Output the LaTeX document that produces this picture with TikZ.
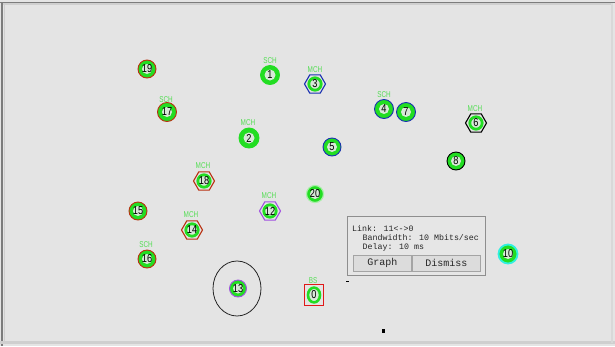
\documentclass[tikz,border=0pt]{standalone}
\usepackage{fontspec}
\setmainfont{Liberation Sans}
\newfontfamily\monofont{Liberation Mono}
\newfontfamily\numfont[FakeStretch=0.8]{Liberation Sans}
\newfontfamily\labfont[FakeStretch=0.75]{Liberation Sans}
\usetikzlibrary{shapes.geometric}
\definecolor{bg}{HTML}{E4E4E4}
\definecolor{grn}{HTML}{22DD22}
\definecolor{lgrn}{HTML}{55DD55}
\definecolor{ctr}{HTML}{D8E8D8}
\definecolor{rdo}{HTML}{B83010}
\definecolor{rsq}{HTML}{E01818}
\definecolor{blu}{HTML}{1830B0}
\definecolor{pur}{HTML}{A050E0}
\definecolor{cyn}{HTML}{30F0E0}
\definecolor{glw}{HTML}{A8EEA8}
\definecolor{frdark}{HTML}{7C7C7C}
\definecolor{frlight}{HTML}{CFCFCF}
\definecolor{boxln}{HTML}{8E8E8E}
\definecolor{boxbg}{HTML}{E6E6E6}
\definecolor{btnbg}{HTML}{DCDCDC}
\definecolor{btnln}{HTML}{A4A4A4}
\begin{document}
\begin{tikzpicture}[x=1pt,y=-1pt,
  num/.style={inner sep=0pt, font=\numfont\fontsize{11.5}{12}\selectfont, text=black},
  cn/.style={num, circle, minimum size=18pt, draw=#1, line width=0.9pt, fill=grn,
    path picture={\fill[ctr] (path picture bounding box.center) circle (5pt);}},
  pn/.style={num, circle, minimum size=19pt, draw=grn, line width=0.9pt, fill=grn,
    path picture={\fill[ctr] (path picture bounding box.center) circle (5.5pt);}},
  hn/.style={num, regular polygon, regular polygon sides=6, minimum size=21pt,
    draw=#1, line width=1.1pt, fill=bg,
    path picture={\filldraw[draw=grn, line width=2.8pt, fill=ctr]
      (path picture bounding box.center) circle (6.2pt);}},
  lab/.style={inner sep=0pt, font=\labfont\fontsize{8.5}{9}\selectfont, text=lgrn},
  mono/.style={inner sep=0pt, font=\monofont\fontsize{8.3}{9}\selectfont, text=black!85},
  btn/.style={inner sep=0pt, draw=btnln, fill=btnbg, line width=0.8pt,
    font=\monofont\fontsize{10}{11}\selectfont, text=black!85, anchor=north west,
    minimum height=16pt}
]
\useasboundingbox (0,0) rectangle (615,346);
% canvas and frame
\fill[bg] (0,0) rectangle (615,346);
\fill[frdark] (0,1.5) rectangle (615,3);
\fill[frlight] (3,3) rectangle (613,4.5);
\fill[frdark] (1,1.5) rectangle (2.5,346);
\fill[frlight] (3.5,3) rectangle (4.5,341);
\fill[frlight] (0,341) rectangle (615,343.5);
\fill[frlight!80!white] (611,3) rectangle (613,343);

% range circle around 13
\node[draw=black!85, line width=0.8pt, ellipse, minimum width=48pt, minimum height=55pt, inner sep=0pt] (range) at (237,288.5) {};

% nodes
\node[cn=rdo] (n19) at (147,69) {19};
\node[pn] (n1) at (270,75) {1};
\node[hn=blu] (n3) at (315,84) {3};
\node[cn=rdo, minimum size=19pt] (n17) at (167,112) {17};
\node[pn, minimum size=20pt] (n2) at (249,138) {2};
\node[cn=blu, minimum size=19pt] (n4) at (384,109) {4};
\node[cn=blu, minimum size=19pt] (n7) at (406,112) {7};
\node[hn=black] (n6) at (476,123) {6};
\node[cn=black] (n8) at (456,161) {8};
\node[cn=blu] (n5) at (332,147) {5};
\node[hn=rdo] (n18) at (204,181) {18};
\node[cn=glw, line width=1.2pt, minimum size=17pt] (n20) at (315,194) {20};
\node[hn=pur] (n12) at (270,211) {12};
\node[cn=rdo] (n15) at (138,211) {15};
\node[hn=rdo] (n14) at (192,230) {14};
\node[cn=rdo] (n16) at (147,259) {16};
\node[cn=pur, minimum size=17pt] (n13) at (238,288.5) {13};
\node[num, rectangle, draw=rsq, line width=1.1pt, fill=bg, minimum width=19pt, minimum height=21pt,
  path picture={\filldraw[draw=grn, line width=2.6pt, fill=ctr]
    (path picture bounding box.center) ellipse (6pt and 7.4pt);}] (n0) at (314,295) {0};
\node[cn=cyn, line width=1.8pt, minimum size=19pt] (n10) at (508,254) {10};

% labels
\node[lab] (l1) at (270,61) {SCH};
\node[lab] (l3) at (315,70) {MCH};
\node[lab] (l17) at (166,99.5) {SCH};
\node[lab] (l2) at (248,123) {MCH};
\node[lab] (l4) at (384,94.5) {SCH};
\node[lab] (l6) at (475,108.5) {MCH};
\node[lab] (l18) at (203,166) {MCH};
\node[lab] (l12) at (269,196) {MCH};
\node[lab] (l14) at (191,215) {MCH};
\node[lab] (l16) at (146,245) {SCH};
\node[lab] (l0) at (313,281) {BS};

% info box
\node[draw=boxln, fill=boxbg, line width=0.9pt, anchor=north west, minimum width=138pt, minimum height=59pt, inner sep=0pt] (box) at (347,216) {};
\node[mono, anchor=base west] (t1) at (352,231) {Link: 11<->0};
\node[mono, anchor=base west] (t2) at (362.5,240) {Bandwidth: 10 Mbits/sec};
\node[mono, anchor=base west] (t3) at (362.5,249) {Delay: 10 ms};
\node[btn, minimum width=58pt] (graph) at (353,255) {Graph};
\node[btn, minimum width=68pt] (dismiss) at (412,255) {Dismiss};

% small marks
\fill[black] (346,281) rectangle (348.5,282.2);
\fill[black] (382,328.5) rectangle (384.5,333);
\end{tikzpicture}
\end{document}
